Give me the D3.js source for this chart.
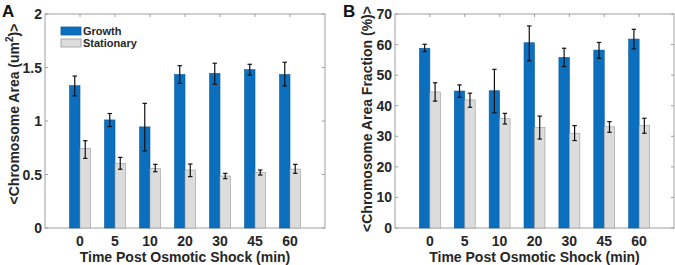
<!DOCTYPE html>
<html>
<head>
<meta charset="utf-8">
<script src="https://cdn.jsdelivr.net/npm/d3@7"></script>
<style>
  body { margin: 0; background: #fff; }
  svg { font-family: "Liberation Sans", Arial, sans-serif; font-weight: bold; }
</style>
</head>
<body>
<div id="chart"></div>
<script>
// categories (time post osmotic shock, min)
const times = ["0", "5", "10", "20", "30", "45", "60"];
const seriesNames = ["Growth", "Stationary"];

// Panel A: chromosome area (um^2)
const areaGrowth = [1.33, 1.01, 0.945, 1.435, 1.445, 1.48, 1.435];
const areaGrowthLo = [1.235, 0.948, 0.72, 1.352, 1.343, 1.43, 1.327];
const areaGrowthHi = [1.42, 1.07, 1.165, 1.517, 1.54, 1.53, 1.549];
const areaStat = [0.745, 0.605, 0.558, 0.542, 0.486, 0.52, 0.551];
const areaStatLo = [0.651, 0.549, 0.526, 0.48, 0.461, 0.495, 0.511];
const areaStatHi = [0.816, 0.66, 0.595, 0.598, 0.511, 0.542, 0.595];
const areaTicks = [0, 0.5, 1, 1.5, 2];

// Panel B: chromosome area fraction (%)
const fracGrowth = [58.8, 44.8, 44.9, 60.6, 55.8, 58.2, 61.8];
const fracGrowthLo = [57.7, 42.75, 37.7, 54.7, 52.8, 55.5, 58.6];
const fracGrowthHi = [60.1, 46.8, 51.9, 66.1, 58.8, 60.7, 65.0];
const fracStat = [44.5, 41.9, 35.75, 32.9, 31.0, 33.1, 33.5];
const fracStatLo = [41.5, 39.5, 34.0, 29.1, 28.6, 31.3, 31.0];
const fracStatHi = [47.5, 44.1, 37.5, 36.6, 33.5, 34.8, 35.9];
const fracTicks = [0, 10, 20, 30, 40, 50, 60, 70];

const W = 675, H = 265;
const svg = d3.select("#chart").append("svg").attr("width", W).attr("height", H);

const blue = "#0b6fbe", blueEdge = "#0a5c9e";
const grey = "#dcdcdc", greyEdge = "#9a9a9a";
const axisColor = "#a0a0a0";

function drawPanel(opt) {
  const g = svg.append("g");
  const x = d3.scaleLinear().domain([0, times.length + 1]).range([opt.left, opt.right]);
  const y = d3.scaleLinear().domain([0, opt.ymax]).range([228, 14]);
  const bw = 0.3; // bar width in category units

  const rows = times.map((t, i) => ({
    i: i + 1,
    g: opt.g[i], gLo: opt.gLo[i], gHi: opt.gHi[i],
    s: opt.s[i], sLo: opt.sLo[i], sHi: opt.sHi[i]
  }));

  // box
  g.append("rect")
    .attr("x", opt.left).attr("y", y(opt.ymax))
    .attr("width", opt.right - opt.left).attr("height", y(0) - y(opt.ymax))
    .attr("fill", "none").attr("stroke", axisColor).attr("stroke-width", 1);

  // inward ticks: y on left and right, x on top and bottom
  opt.ticks.forEach((v) => {
    g.append("line").attr("x1", opt.left).attr("x2", opt.left + 3)
      .attr("y1", y(v)).attr("y2", y(v)).attr("stroke", axisColor);
    g.append("line").attr("x1", opt.right).attr("x2", opt.right - 3)
      .attr("y1", y(v)).attr("y2", y(v)).attr("stroke", axisColor);
  });
  rows.forEach((d) => {
    g.append("line").attr("x1", x(d.i)).attr("x2", x(d.i))
      .attr("y1", y(opt.ymax)).attr("y2", y(opt.ymax) + 3).attr("stroke", axisColor);
  });

  // bars
  g.selectAll(".bg").data(rows).enter().append("rect")
    .attr("x", (d) => x(d.i - bw)).attr("width", x(bw) - x(0))
    .attr("y", (d) => y(d.g)).attr("height", (d) => y(0) - y(d.g))
    .attr("fill", blue).attr("stroke", blueEdge).attr("stroke-width", 0.6);
  g.selectAll(".bs").data(rows).enter().append("rect")
    .attr("x", (d) => x(d.i)).attr("width", x(bw) - x(0))
    .attr("y", (d) => y(d.s)).attr("height", (d) => y(0) - y(d.s))
    .attr("fill", grey).attr("stroke", greyEdge).attr("stroke-width", 0.6);

  // error bars
  function errBar(cx, lo, hi) {
    g.append("line").attr("x1", cx).attr("x2", cx).attr("y1", y(lo)).attr("y2", y(hi))
      .attr("stroke", "#111").attr("stroke-width", 1.2);
    [lo, hi].forEach((v) => {
      g.append("line").attr("x1", cx - 2.2).attr("x2", cx + 2.2).attr("y1", y(v)).attr("y2", y(v))
        .attr("stroke", "#111").attr("stroke-width", 1.2);
    });
  }
  rows.forEach((d) => {
    errBar(x(d.i - bw / 2), d.gLo, d.gHi);
    errBar(x(d.i + bw / 2), d.sLo, d.sHi);
  });

  // tick labels
  g.selectAll(".yl").data(opt.ticks).enter().append("text")
    .attr("x", opt.left - 3).attr("y", (d) => y(d) + 5)
    .attr("text-anchor", "end").attr("font-size", "14px").attr("fill", "#262626")
    .text((d) => d);
  g.selectAll(".xl").data(rows).enter().append("text")
    .attr("x", (d) => x(d.i)).attr("y", 246)
    .attr("text-anchor", "middle").attr("font-size", "14px").attr("fill", "#262626")
    .text((d, i) => times[i]);

  // axis titles
  g.append("text")
    .attr("x", (opt.left + opt.right) / 2).attr("y", 262)
    .attr("text-anchor", "middle").attr("font-size", "14px").attr("fill", "#262626")
    .text("Time Post Osmotic Shock (min)");

  const yt = g.append("text")
    .attr("transform", `translate(${opt.ylabX},${opt.ylabY}) rotate(-90)`)
    .attr("text-anchor", "middle").attr("font-size", "14px").attr("fill", "#262626");
  opt.ylabel(yt);

  // panel letter
  g.append("text").attr("x", opt.letterX).attr("y", 17)
    .attr("font-size", "17px").attr("fill", "#111").text(opt.letter);
  return { x, y };
}

drawPanel({
  left: 45, right: 325, ymax: 2, ticks: areaTicks,
  g: areaGrowth, gLo: areaGrowthLo, gHi: areaGrowthHi,
  s: areaStat, sLo: areaStatLo, sHi: areaStatHi,
  ylabX: 19, ylabY: 114, letter: "A", letterX: 2,
  ylabel: (t) => {
    t.append("tspan").text("<Chromosome Area (um");
    t.append("tspan").attr("font-size", "10px").attr("dy", -6).text("2");
    t.append("tspan").attr("dy", 6).text(")>");
  }
});

drawPanel({
  left: 395, right: 674, ymax: 70, ticks: fracTicks,
  g: fracGrowth, gLo: fracGrowthLo, gHi: fracGrowthHi,
  s: fracStat, sLo: fracStatLo, sHi: fracStatHi,
  ylabX: 372, ylabY: 119, letter: "B", letterX: 343,
  ylabel: (t) => t.text("<Chromosome Area Fraction (%)>")
});

// legend (panel A)
const legend = svg.append("g").attr("transform", "translate(61,27)");
const legendColors = [[blue, blueEdge], [grey, greyEdge]];
seriesNames.forEach((name, i) => {
  legend.append("rect").attr("x", 0).attr("y", i * 12).attr("width", 20).attr("height", 8)
    .attr("fill", legendColors[i][0]).attr("stroke", legendColors[i][1]).attr("stroke-width", 0.8);
  legend.append("text").attr("x", 22).attr("y", i * 12 + 8)
    .attr("font-size", "11px").attr("fill", "#262626").text(name);
});
</script>
</body>
</html>
